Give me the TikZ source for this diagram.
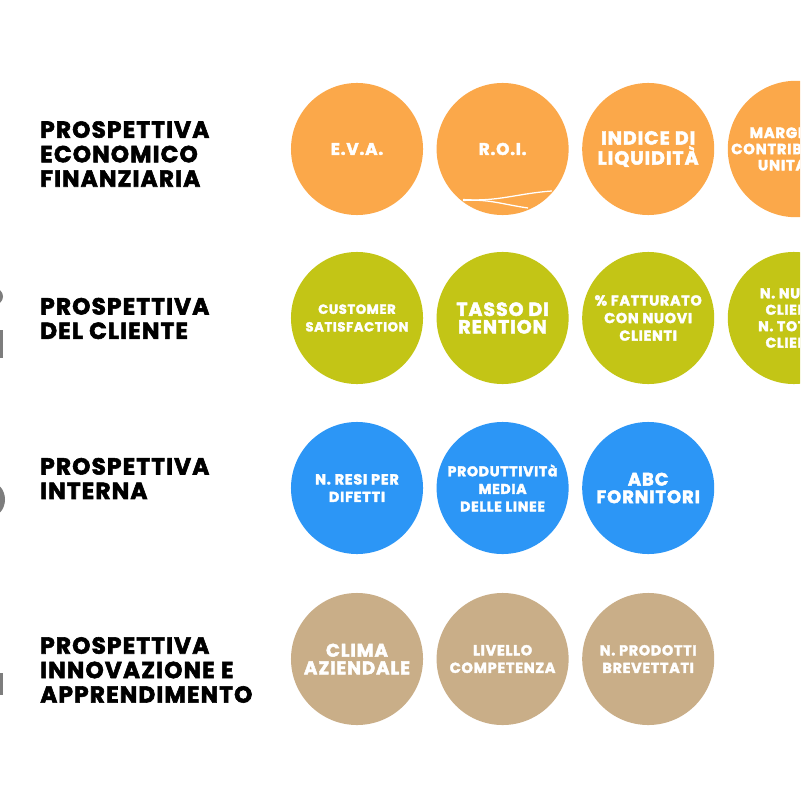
\documentclass[tikz,border=0pt]{standalone}
\usepackage{fontspec}
\setmainfont{Poppins}[BoldFeatures={FakeBold=2.5, LetterSpace=5}]
\usetikzlibrary{positioning}
\definecolor{financecolor}{RGB}{251, 168, 74}
\definecolor{clientcolor}{RGB}{195, 197, 22}
\definecolor{internalcolor}{RGB}{44, 150, 246}
\definecolor{growthcolor}{RGB}{201, 174, 136}
\definecolor{numbergray}{RGB}{125, 125, 125}

\tikzset{
    kpi/.style={circle, minimum size=3.3cm, inner sep=0pt, align=center, text=white,
        font=\bfseries\fontsize{#1}{12.5}\selectfont},
    perspective/.style={anchor=west, align=left, text=black, inner sep=0pt,
        font=\bfseries\fontsize{16.5}{17.4}\selectfont},
}

\begin{document}
\begin{tikzpicture}[x=0.025cm, y=-0.025cm]

    \clip (0,0) rectangle (800,800);
    \fill[white] (0,0) rectangle (800,800);

    % ==========================================
    % --- cut off numbers on the left edge ---
    % ==========================================
    \fill[numbergray] (-6,296.5) ellipse (9 and 8.5);
    \fill[numbergray] (0,330) rectangle (3,358);
    \fill[numbergray] (-10,499.5) ellipse (15 and 17.5);
    \fill[numbergray] (0,673) rectangle (3,695);

    % ==========================================
    % --- Row 1: economico finanziaria ---
    % ==========================================
    \node[perspective] (economico) at (40,154) {PROSPETTIVA\\ECONOMICO\\FINANZIARIA};

    \node[kpi=12, fill=financecolor] (eva) at (357,149) {E.V.A.};
    \node[kpi=12, fill=financecolor, right=0.325cm of eva] (roi) {R.O.I.};
    \node[kpi=13.5, fill=financecolor, right=0.325cm of roi] (liquidita) {INDICE DI\\LIQUIDITÀ};
    \node[kpi=10.5, fill=financecolor, right=0.325cm of liquidita,
        font=\bfseries\fontsize{10.5}{11.5}\selectfont] (margine) {MARGINE DI\\CONTRIBUZIONE\\UNITARIO};

    % white strokes at the bottom of R.O.I.
    \begin{scope}
        \clip (roi.center) circle (66);
        \draw[white, line width=0.9pt] (463,199.5) to[out=-4, in=184] (552,191);
        \draw[white, line width=0.9pt] (463,200.5) to[out=4, in=172] (528,208);
    \end{scope}

    % ==========================================
    % --- Row 2: del cliente ---
    % ==========================================
    \node[perspective] (cliente) at (40,318.5) {PROSPETTIVA\\DEL CLIENTE};

    \node[kpi=9.3, fill=clientcolor] (customer) at (357,318) {CUSTOMER\\SATISFACTION};
    \node[kpi=13.5, fill=clientcolor, right=0.325cm of customer] (rention) {TASSO DI\\RENTION};
    \node[kpi=10.2, fill=clientcolor, right=0.325cm of rention] (fatturato) {\% FATTURATO\\CON NUOVI\\CLIENTI};
    \node[kpi=10, fill=clientcolor, right=0.325cm of fatturato,
        font=\bfseries\fontsize{10}{11.7}\selectfont] (nuovi) {N. NUOVI\\CLIENTI\\N. TOTALI\\CLIENTI};

    % ==========================================
    % --- Row 3: interna ---
    % ==========================================
    \node[perspective] (interna) at (40,478.5) {PROSPETTIVA\\INTERNA};

    \node[kpi=10.3, fill=internalcolor] (resi) at (357,488) {N. RESI PER\\DIFETTI};
    \node[kpi=10, fill=internalcolor, right=0.325cm of resi] (produttivita) {PRODUTTIVITà\\MEDIA\\DELLE LINEE};
    \node[kpi=12.8, fill=internalcolor, right=0.325cm of produttivita] (fornitori) {ABC\\FORNITORI};

    % ==========================================
    % --- Row 4: innovazione e apprendimento ---
    % ==========================================
    \node[perspective] (innovazione) at (40,670) {PROSPETTIVA\\INNOVAZIONE E\\APPRENDIMENTO};

    \node[kpi=13, fill=growthcolor] (clima) at (357,659) {CLIMA\\AZIENDALE};
    \node[kpi=10.3, fill=growthcolor, right=0.325cm of clima] (livello) {LIVELLO\\COMPETENZA};
    \node[kpi=10.2, fill=growthcolor, right=0.325cm of livello] (brevetti) {N. PRODOTTI\\BREVETTATI};

\end{tikzpicture}
\end{document}
